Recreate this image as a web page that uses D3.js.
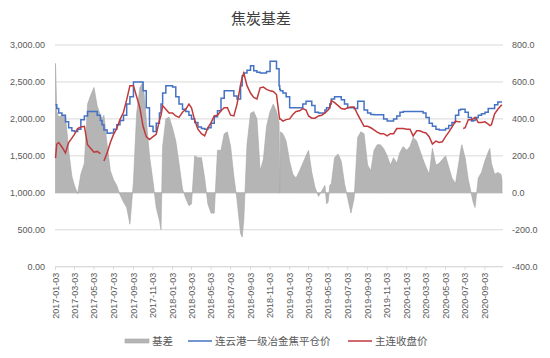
<!DOCTYPE html>
<html><head><meta charset="utf-8">
<script src="https://cdn.jsdelivr.net/npm/d3@7"></script>
<style>body{margin:0;background:#fff}svg{display:block}</style>
</head><body><svg id="c" width="550" height="358"></svg>
<script>
const title = "焦炭基差";
const seriesNames = ["基差", "连云港一级冶金焦平仓价", "主连收盘价"];
const dates = ["2017-01-03","2017-01-07","2017-01-13","2017-01-23","2017-02-03","2017-02-13","2017-02-23","2017-03-03","2017-03-13","2017-03-23","2017-04-03","2017-04-13","2017-04-23","2017-05-03","2017-05-13","2017-05-23","2017-05-28","2017-06-03","2017-06-13","2017-06-23","2017-07-03","2017-07-13","2017-07-23","2017-08-03","2017-08-13","2017-08-23","2017-09-03","2017-09-13","2017-09-23","2017-10-03","2017-10-13","2017-10-23","2017-11-03","2017-11-13","2017-11-23","2017-11-28","2017-12-03","2017-12-13","2017-12-23","2018-01-03","2018-01-13","2018-01-23","2018-02-03","2018-02-13","2018-02-23","2018-03-03","2018-03-13","2018-03-23","2018-04-03","2018-04-13","2018-04-23","2018-05-03","2018-05-13","2018-05-23","2018-06-03","2018-06-13","2018-06-23","2018-07-03","2018-07-13","2018-07-23","2018-08-03","2018-08-08","2018-08-13","2018-08-23","2018-09-03","2018-09-13","2018-09-23","2018-10-03","2018-10-13","2018-10-23","2018-11-03","2018-11-13","2018-11-23","2018-12-01","2018-12-03","2018-12-05","2018-12-13","2018-12-23","2019-01-03","2019-01-13","2019-01-23","2019-02-03","2019-02-13","2019-02-23","2019-03-03","2019-03-13","2019-03-23","2019-04-03","2019-04-13","2019-04-23","2019-04-28","2019-05-03","2019-05-08","2019-05-13","2019-05-23","2019-06-03","2019-06-13","2019-06-23","2019-07-03","2019-07-13","2019-07-23","2019-08-03","2019-08-13","2019-08-23","2019-09-03","2019-09-13","2019-09-23","2019-10-03","2019-10-13","2019-10-23","2019-11-03","2019-11-13","2019-11-23","2019-12-03","2019-12-13","2019-12-23","2020-01-03","2020-01-13","2020-01-23","2020-02-03","2020-02-13","2020-02-23","2020-03-03","2020-03-13","2020-03-23","2020-04-03","2020-04-13","2020-04-23","2020-05-03","2020-05-13","2020-05-23","2020-06-03","2020-06-13","2020-06-19","2020-06-23","2020-06-27","2020-07-03","2020-07-13","2020-07-23","2020-07-28","2020-08-03","2020-08-08","2020-08-13","2020-08-23","2020-09-03","2020-09-13","2020-09-18","2020-09-23","2020-10-03","2020-10-13","2020-10-23","2020-10-26"];
const spotPrice = [2190,2140,2080,2050,1960,1880,1840,1830,1860,1990,2040,2100,2100,2100,2050,1980,1920,1850,1805,1810,1860,1920,1980,2050,2200,2300,2500,2500,2500,2380,2150,1900,1830,1940,2080,2200,2350,2450,2450,2430,2300,2200,2130,2100,2050,2000,1950,1890,1870,1860,1880,1940,2030,2110,2280,2380,2380,2380,2310,2270,2450,2580,2620,2660,2720,2650,2630,2620,2620,2640,2780,2780,2680,2450,2400,2380,2350,2300,2150,2150,2150,2150,2200,2240,2240,2180,2090,2080,2080,2120,2150,2150,2200,2270,2300,2300,2260,2200,2150,2150,2140,2240,2240,2120,2080,2060,2055,2055,2055,2000,1970,1970,2000,2040,2090,2100,2100,2100,2100,2100,2100,2080,2020,1940,1900,1860,1850,1850,1870,1910,1950,2050,2120,2130,2130,2130,2090,2020,1970,1980,2000,2020,2050,2070,2090,2140,2140,2140,2190,2230,2230,2230];
const futuresClose = [1470,1660,1680,1620,1540,1680,1740,1790,1870,1890,1900,1650,1600,1550,1560,1530,null,1430,1540,1680,1790,1870,1990,2090,2260,2450,2450,2300,2150,1900,1760,1720,1760,1790,1980,2050,2180,2130,2080,2080,2040,2020,2090,2130,2200,2150,1980,1860,1800,1770,1880,1950,2040,2050,2110,2150,2150,2050,2040,2200,2460,2560,2620,2450,2350,2290,2270,2420,2430,2400,2380,2370,2330,2050,2000,2000,1970,1990,2000,2060,2100,2110,2140,2120,2040,2010,2010,2040,2050,2080,2100,2120,2150,2250,2220,2180,2140,2130,2150,2160,2160,2060,1980,1900,1900,1880,1850,1820,1800,1800,1770,1800,1800,1870,1870,1870,1860,1860,1770,1840,1840,1820,1810,1760,1660,1700,1680,1690,1760,1820,1890,1970,1960,1960,null,1870,1880,1990,1990,2000,2020,1990,1950,1950,1960,1930,1910,1920,2070,2130,2180,2190];
const basis = [700,440,410,420,420,230,90,40,-5,100,160,480,530,570,470,420,400,420,260,120,70,40,-10,-50,-80,-170,60,430,570,600,400,200,60,-80,-150,-200,250,400,410,350,280,160,20,-30,-70,-60,200,190,190,80,-60,-110,-110,230,230,320,330,250,90,-40,-220,-240,-150,260,430,440,400,120,180,360,440,480,440,380,0,330,320,280,170,100,80,120,160,200,230,110,30,-20,10,40,-60,-50,40,50,190,210,170,50,-30,-110,-30,300,330,320,150,120,230,260,260,240,200,150,190,160,220,250,230,250,300,280,230,180,140,100,240,150,160,180,200,140,80,50,160,230,260,230,190,70,-10,-50,-80,0,80,110,175,220,240,160,100,110,100,70];
const leftTicks = [0,500,1000,1500,2000,2500,3000];
const leftTickLabels = ["0.00","500.00","1,000.00","1,500.00","2,000.00","2,500.00","3,000.00"];
const rightTicks = [-400,-200,0,200,400,600,800];
const rightTickLabels = ["-400.0","-200.0","0.0","200.0","400.0","600.0","800.0"];
const xTickLabels = ["2017-01-03","2017-03-03","2017-05-03","2017-07-03","2017-09-03","2017-11-03","2018-01-03","2018-03-03","2018-05-03","2018-07-03","2018-09-03","2018-11-03","2019-01-03","2019-03-03","2019-05-03","2019-07-03","2019-09-03","2019-11-03","2020-01-03","2020-03-03","2020-05-03","2020-07-03","2020-09-03"];

const svg = d3.select("#c");
const parse = d3.timeParse("%Y-%m-%d");
const font = "'Liberation Sans','Noto Sans CJK SC',sans-serif";
const cjk = "'Noto Sans CJK SC','Liberation Sans',sans-serif";
const L = 55, R = 503, T = 45, B = 266.7;
const x = d3.scaleTime().domain([parse("2017-01-03"), parse("2020-09-03")]).range([55.5, 485]);
const yL = d3.scaleLinear().domain([0, 3000]).range([B, T]);
const yR = d3.scaleLinear().domain([-400, 800]).range([B, T]);

svg.append("text").attr("x", 261).attr("y", 24).attr("text-anchor", "middle")
  .attr("font-family", cjk).attr("font-size", 15).attr("fill", "#404040").text(title);

// gridlines
svg.append("g").selectAll("line").data(leftTicks).join("line")
  .attr("x1", L).attr("x2", R).attr("y1", d => yL(d)).attr("y2", d => yL(d))
  .attr("stroke", "#d9d9d9").attr("stroke-width", 1);

// left labels
svg.append("g").selectAll("text").data(leftTicks).join("text")
  .attr("x", 45).attr("y", d => yL(d)).attr("dy", "0.35em").attr("text-anchor", "end")
  .attr("font-family", font).attr("font-size", 9).attr("fill", "#595959")
  .text((d, i) => leftTickLabels[i]);
// right labels
svg.append("g").selectAll("text").data(rightTicks).join("text")
  .attr("x", 512).attr("y", d => yR(d)).attr("dy", "0.35em").attr("text-anchor", "start")
  .attr("font-family", font).attr("font-size", 9).attr("fill", "#595959")
  .text((d, i) => rightTickLabels[i]);

const pts = dates.map((d, i) => ({ t: parse(d), s: spotPrice[i], f: futuresClose[i], b: basis[i] }));

// basis area
svg.append("path").datum(pts)
  .attr("d", d3.area().x(d => x(d.t)).y0(yR(0)).y1(d => yR(d.b)))
  .attr("fill", "#b5b5b5").attr("stroke", "#a6a6a6").attr("stroke-width", 0.6);

// x axis line & ticks
svg.append("line").attr("x1", L).attr("x2", R).attr("y1", B).attr("y2", B).attr("stroke", "#d9d9d9");
svg.append("g").selectAll("line").data(xTickLabels).join("line")
  .attr("x1", d => x(parse(d))).attr("x2", d => x(parse(d))).attr("y1", B).attr("y2", B + 3)
  .attr("stroke", "#d9d9d9");
svg.append("g").selectAll("text").data(xTickLabels).join("text")
  .attr("transform", d => `translate(${x(parse(d))},${B + 6}) rotate(-90)`)
  .attr("dy", "0.35em").attr("text-anchor", "end")
  .attr("font-family", font).attr("font-size", 9).attr("fill", "#595959").text(d => d);

// spot price line (step)
svg.append("path").datum(pts)
  .attr("d", d3.line().x(d => x(d.t)).y(d => yL(d.s)).curve(d3.curveStepAfter))
  .attr("fill", "none").attr("stroke", "#4472c4").attr("stroke-width", 1.5);

// futures close line
svg.append("path").datum(pts)
  .attr("d", d3.line().defined(d => d.f != null).x(d => x(d.t)).y(d => yL(d.f)))
  .attr("fill", "none").attr("stroke", "#c0393b").attr("stroke-width", 1.5);

// legend
const ly = 341;
const lg = svg.append("g");
lg.append("rect").attr("x", 125).attr("y", ly - 2).attr("width", 24).attr("height", 4)
  .attr("fill", "#b5b5b5").attr("stroke", "#a6a6a6").attr("stroke-width", 0.6);
lg.append("text").attr("x", 152).attr("y", ly).attr("dy", "0.35em")
  .attr("font-family", cjk).attr("font-size", 10.5).attr("fill", "#595959").text(seriesNames[0]);
lg.append("line").attr("x1", 188).attr("x2", 212).attr("y1", ly).attr("y2", ly)
  .attr("stroke", "#4472c4").attr("stroke-width", 1.5);
lg.append("text").attr("x", 215).attr("y", ly).attr("dy", "0.35em")
  .attr("font-family", cjk).attr("font-size", 10.5).attr("fill", "#595959").text(seriesNames[1]);
lg.append("line").attr("x1", 348).attr("x2", 372).attr("y1", ly).attr("y2", ly)
  .attr("stroke", "#c0393b").attr("stroke-width", 1.5);
lg.append("text").attr("x", 375).attr("y", ly).attr("dy", "0.35em")
  .attr("font-family", cjk).attr("font-size", 10.5).attr("fill", "#595959").text(seriesNames[2]);
</script></body></html>
